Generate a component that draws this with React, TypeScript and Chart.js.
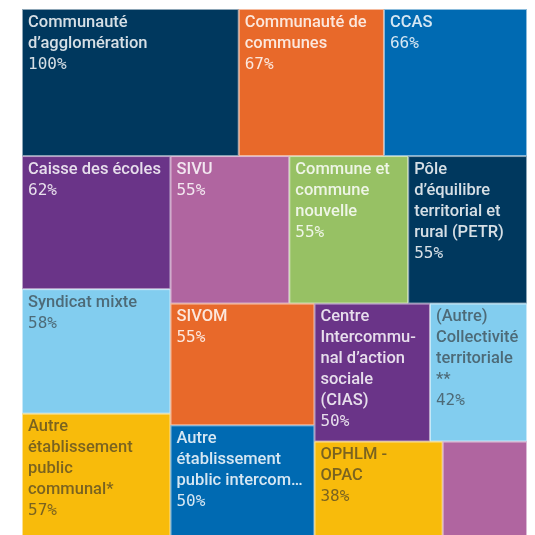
import React, { useEffect, useRef } from "react";
import { Chart, registerables } from "chart.js";

Chart.register(...registerables);

// Categories (display text, lines split by \n) — ordered as in the treemap
const categories: string[] = [
  "Communauté\nd’agglomération",
  "Communauté de\ncommunes",
  "CCAS",
  "Caisse des écoles",
  "Syndicat mixte",
  "Autre\nétablissement\npublic\ncommunal*",
  "SIVU",
  "Commune et\ncommune\nnouvelle",
  "Pôle\nd’équilibre\nterritorial et\nrural (PETR)",
  "SIVOM",
  "Autre\nétablissement\npublic intercom…",
  "Centre\nIntercommu-\nnal d’action\nsociale\n(CIAS)",
  "(Autre)\nCollectivité\nterritoriale\n**",
  "OPHLM -\nOPAC",
  "",
];

// Share (%) — also used as cell size
const shares: number[] = [100, 67, 66, 62, 58, 57, 55, 55, 55, 55, 50, 50, 42, 38, 25];

const palette: string[] = [
  "#00385e",
  "#e8692a",
  "#006ab2",
  "#6a3488",
  "#82cdef",
  "#f8bb0b",
  "#b065a0",
  "#97c164",
];
const textColors: string[] = [
  "rgba(255,255,255,0.84)",
  "rgba(255,255,255,0.84)",
  "rgba(255,255,255,0.84)",
  "rgba(255,255,255,0.84)",
  "rgba(45,45,45,0.62)",
  "rgba(45,45,45,0.62)",
  "rgba(255,255,255,0.84)",
  "rgba(255,255,255,0.84)",
];

type Rect = { x0: number; y0: number; x1: number; y1: number };

function squarify(values: number[], W: number, H: number): Rect[] {
  const out: Rect[] = new Array(values.length);
  const n = values.length;
  let x0 = 0, y0 = 0, x1 = W, y1 = H;
  let value = values.reduce((a, b) => a + b, 0);
  let i0 = 0, i1 = 0;
  while (i0 < n) {
    const dx = x1 - x0, dy = y1 - y0;
    let sumValue = values[i1++];
    let minV = sumValue, maxV = sumValue;
    const alpha = Math.max(dy / dx, dx / dy) / value;
    let beta = sumValue * sumValue * alpha;
    let minRatio = Math.max(maxV / beta, beta / minV);
    for (; i1 < n; ++i1) {
      const v = values[i1];
      sumValue += v;
      if (v < minV) minV = v;
      if (v > maxV) maxV = v;
      beta = sumValue * sumValue * alpha;
      const nr = Math.max(maxV / beta, beta / minV);
      if (nr > minRatio) {
        sumValue -= v;
        break;
      }
      minRatio = nr;
    }
    if (dx < dy) {
      const ny = value ? y0 + (dy * sumValue) / value : y1;
      let x = x0;
      for (let i = i0; i < i1; i++) {
        const w = ((x1 - x0) * values[i]) / sumValue;
        out[i] = { x0: x, y0: y0, x1: x + w, y1: ny };
        x += w;
      }
      y0 = ny;
    } else {
      const nx = value ? x0 + (dx * sumValue) / value : x1;
      let y = y0;
      for (let i = i0; i < i1; i++) {
        const h = ((y1 - y0) * values[i]) / sumValue;
        out[i] = { x0: x0, y0: y, x1: nx, y1: y + h };
        y += h;
      }
      x0 = nx;
    }
    value -= sumValue;
    i0 = i1;
  }
  return out;
}

const treemapPlugin = {
  id: "treemapCells",
  afterLayout(chart: any) {
    const area = chart.chartArea;
    const W = area.right - area.left;
    const H = area.bottom - area.top;
    const rects = squarify(shares, W, H);
    chart.$cells = rects.map((r) => ({
      x0: r.x0 / W,
      x1: r.x1 / W,
      y0: r.y0 / H,
      y1: r.y1 / H,
    }));
  },
  beforeDatasetsDraw(chart: any) {
    const ctx: CanvasRenderingContext2D = chart.ctx;
    const xs = chart.scales.x;
    const ys = chart.scales.y;
    const cells = chart.$cells || [];
    cells.forEach((c: any, i: number) => {
      const left = xs.getPixelForValue(c.x0);
      const right = xs.getPixelForValue(c.x1);
      const top = ys.getPixelForValue(c.y0);
      const bottom = ys.getPixelForValue(c.y1);
      const w = right - left;
      const h = bottom - top;
      ctx.save();
      ctx.fillStyle = palette[i % palette.length];
      ctx.fillRect(left, top, w, h);
      ctx.strokeStyle = "rgba(255,255,255,0.55)";
      ctx.lineWidth = 1;
      ctx.strokeRect(left + 0.5, top + 0.5, w - 1, h - 1);
      ctx.beginPath();
      ctx.rect(left, top, w, h);
      ctx.clip();
      if (categories[i]) {
        ctx.fillStyle = textColors[i % textColors.length];
        ctx.textBaseline = "alphabetic";
        ctx.textAlign = "left";
        const lines = categories[i].split("\n");
        let yy = top + 17.5;
        ctx.font = "500 16.5px Roboto";
        lines.forEach((ln) => {
          ctx.fillText(ln, left + 6, yy);
          yy += 21;
        });
        ctx.font = "16px 'DejaVu Sans Mono'";
        ctx.fillText(shares[i] + "%", left + 6, yy);
      }
      ctx.restore();
    });
  },
};

export default function App() {
  const ref = useRef<HTMLCanvasElement | null>(null);
  useEffect(() => {
    if (!ref.current) return;
    const chart = new Chart(ref.current, {
      type: "scatter",
      data: {
        datasets: [
          {
            data: shares.map((s, i) => ({ x: i, y: s })),
            pointRadius: 0,
            showLine: false,
          },
        ],
      },
      options: {
        animation: false,
        responsive: false,
        devicePixelRatio: 1,
        layout: { padding: { left: 22, top: 9, right: 8, bottom: 9 } },
        scales: {
          x: { type: "linear", min: 0, max: 1, display: false },
          y: { type: "linear", min: 0, max: 1, reverse: true, display: false },
        },
        plugins: {
          legend: { display: false },
          tooltip: { enabled: false },
        },
      },
      plugins: [treemapPlugin],
    });
    return () => chart.destroy();
  }, []);
  return (
    <div
      style={{
        position: "fixed",
        left: 0,
        top: 0,
        width: 535,
        height: 535,
        overflow: "hidden",
        background: "#fff",
      }}
    >
      <canvas
        ref={ref}
        width={535}
        height={545}
        style={{ position: "absolute", left: 0, top: 0, width: 535, height: 545 }}
      />
    </div>
  );
}
